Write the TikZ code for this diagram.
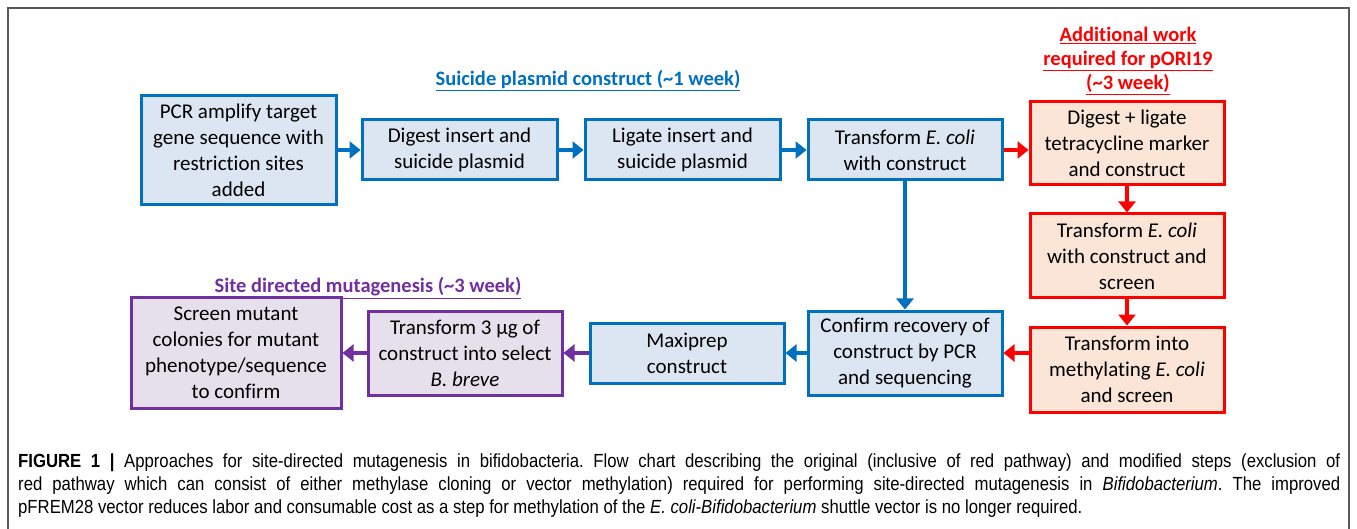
\documentclass[tikz,border=0pt]{standalone}
\usepackage{fontspec}
\setmainfont{Carlito}[Ligatures={NoCommon}]
\newfontfamily\capfont[FakeStretch=0.88]{Liberation Sans}
\usetikzlibrary{arrows.meta,positioning}

\definecolor{stepblue}{RGB}{0,112,192}
\definecolor{fillblue}{RGB}{220,230,242}
\definecolor{stepred}{RGB}{255,0,0}
\definecolor{fillred}{RGB}{251,229,214}
\definecolor{steppurple}{RGB}{112,48,160}
\definecolor{fillpurple}{RGB}{230,224,236}
\definecolor{framegray}{RGB}{90,90,90}

\tikzset{
  box/.style={draw, line width=3pt, align=center, inner sep=0pt,
    font=\fontsize{21}{26}\selectfont},
  bluebox/.style={box, draw=stepblue, fill=fillblue},
  redbox/.style={box, draw=stepred, fill=fillred},
  purplebox/.style={box, draw=steppurple, fill=fillpurple},
  heading/.style={align=center, font=\bfseries\fontsize{20.5}{24}\selectfont},
  flow/.style={line width=4pt, -{Triangle[length=11pt,width=17pt]}},
}

\begin{document}
\begin{tikzpicture}[x=1pt,y=-1pt]
  \useasboundingbox (0,0) rectangle (1357,529);
  \draw[framegray, line width=1.5pt] (8,529) -- (8,8) -- (1349,8) -- (1349,529);

  % top row
  \node[bluebox, minimum width=195pt, minimum height=109pt] (pcr) at (238.5,150)
    {PCR amplify target\\gene sequence with\\restriction sites\\added};
  \node[bluebox, minimum width=195pt, minimum height=60pt] (digest) at (459.5,150)
    {Digest insert and\\suicide plasmid};
  \node[bluebox, minimum width=195pt, minimum height=60pt] (ligate) at (682.5,150)
    {Ligate insert and\\suicide plasmid};
  \node[bluebox, minimum width=194pt, minimum height=60pt] (trans) at (905,150)
    {Transform \textit{E. coli}\\with construct};
  \node[heading, text=stepblue] (suicide) at (588,81)
    {\underline{Suicide plasmid construct (\textasciitilde1 week)}};

  % red pathway
  \node[heading, text=stepred] (extra) at (1128,61)
    {\underline{Additional work}\\\underline{required for pORI19}\\\underline{(\textasciitilde3 week)}};
  \node[redbox, minimum width=194pt, minimum height=83pt] (red1) at (1127,143.5)
    {Digest + ligate\\tetracycline marker\\and construct};
  \node[redbox, minimum width=194pt, minimum height=84pt] (red2) at (1127,256)
    {Transform \textit{E. coli}\\with construct and\\screen};
  \node[redbox, minimum width=194pt, minimum height=85pt] (red3) at (1127,369.5)
    {Transform into\\methylating \textit{E. coli}\\and screen};

  % bottom row
  \node[bluebox, minimum width=194pt, minimum height=84pt] (confirm) at (905,353)
    {Confirm recovery of\\construct by PCR\\and sequencing};
  \node[bluebox, minimum width=194pt, minimum height=60pt] (maxi) at (687,353)
    {Maxiprep\\construct};
  \node[purplebox, minimum width=194pt, minimum height=84pt] (bbreve) at (465,353)
    {Transform 3 µg of\\construct into select\\\textit{B. breve}};
  \node[purplebox, minimum width=210pt, minimum height=110pt] (screen) at (236,353)
    {Screen mutant\\colonies for mutant\\phenotype/sequence\\to confirm};
  \node[heading, text=steppurple] (sdm) at (368,288)
    {\underline{Site directed mutagenesis (\textasciitilde3 week)}};

  % arrows
  \draw[flow, stepblue] (pcr) -- (digest);
  \draw[flow, stepblue] (digest) -- (ligate);
  \draw[flow, stepblue] (ligate) -- (trans);
  \draw[flow, stepblue, line width=3.5pt] (trans) -- (confirm);
  \draw[flow, stepred] (trans) -- (red1.west |- trans);
  \draw[flow, stepred] (red1) -- (red2);
  \draw[flow, stepred] (red2) -- (red3);
  \draw[flow, stepred] (red3.west |- confirm) -- (confirm);
  \draw[flow, stepblue] (confirm) -- (maxi);
  \draw[flow, steppurple] (maxi) -- (bbreve);
  \draw[flow, steppurple] (bbreve) -- (screen);

  % caption
  \node[anchor=west, text width=1322pt, align=justify, inner sep=0pt,
    font=\capfont\fontsize{19}{23}\selectfont\frenchspacing] (caption) at (18,486)
    {{\bfseries FIGURE 1 |} Approaches for site-directed mutagenesis in bifidobacteria. Flow chart describing the original (inclusive of red pathway) and modified steps (exclusion of\linebreak
    red pathway which can consist of either methylase cloning or vector methylation) required for performing site-directed mutagenesis in \textit{Bifidobacterium}. The improved\linebreak
    pFREM28 vector reduces labor and consumable cost as a step for methylation of the \textit{E. coli-Bifidobacterium} shuttle vector is no longer required.};
\end{tikzpicture}
\end{document}
